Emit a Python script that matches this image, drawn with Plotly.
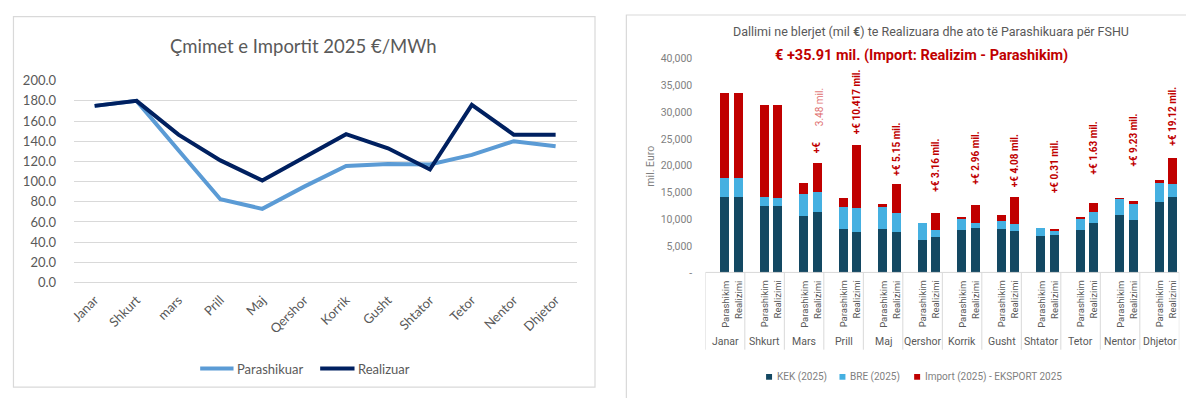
import plotly.graph_objects as go

W, H = 1186, 398

# ---------------- Left chart data ----------------
months_left = ["Janar", "Shkurt", "mars", "Prill", "Maj", "Qershor", "Korrik",
               "Gusht", "Shtator", "Tetor", "Nentor", "Dhjetor"]
parashikuar = [175.0, 180.0, 131.0, 82.5, 73.0, 95.0, 115.5, 117.5, 117.0, 126.5, 140.0, 135.0]
realizuar = [175.0, 180.0, 146.5, 121.0, 101.0, 124.0, 147.0, 133.0, 112.0, 176.0, 146.5, 146.5]
left_yticks = [0, 20, 40, 60, 80, 100, 120, 140, 160, 180, 200]

# ---------------- Right chart data ----------------
months_right = ["Janar", "Shkurt", "Mars", "Prill", "Maj", "Qershor", "Korrik",
                "Gusht", "Shtator", "Tetor", "Nentor", "Dhjetor"]
sub_labels = ["Parashikim", "Realizimi"]
kek_plan = [14160, 12450, 10540, 8270, 8160, 6200, 8040, 8220, 6910, 7920, 10720, 13220]
bre_plan = [3470, 1710, 4230, 3930, 4220, 3090, 2020, 1480, 1540, 2140, 3030, 3510]
imp_plan = [16000, 17150, 1960, 1790, 420, 0, 300, 1020, 0, 120, 120, 590]
kek_real = [14160, 12450, 11370, 7560, 7560, 6670, 8340, 7800, 7140, 9340, 9940, 14110]
bre_real = [3470, 1600, 3630, 4530, 3570, 1370, 1000, 1310, 600, 1970, 2920, 2440]
imp_real = [16000, 17260, 5420, 11720, 5360, 3210, 3290, 5000, 480, 1730, 590, 4880]
diff_labels = ["", "", "+€", "+€ 10.417 mil.", "+€ 5.15 mil.", "+€ 3.16 mil.",
               "+€ 2.96 mil.", "+€ 4.08 mil.", "+€ 0.31 mil.", "+€ 1.63 mil.",
               "+€ 9.23 mil.", "+€ 19.12 mil."]
mars_extra_label = "3.48 mil."
right_yticks = [0, 5000, 10000, 15000, 20000, 25000, 30000, 35000, 40000]
right_yticktext = ["-", "5,000", "10,000", "15,000", "20,000", "25,000", "30,000", "35,000", "40,000"]

# label placement (bottom of each rotated label, in data units)
label_base = [None, None, 21900, 25540, 17730, 14820, 16070, 15660, 14470, 18040, 19410, 23400]
mars_extra_base = 26970

# ---------------- styles ----------------
GRAY = "#595959"
LGRAY = "#7f7f7f"
RED = "#c00000"
C_KEK = "#134862"
C_BRE = "#45b0e1"
C_IMP = "#c00000"
C_PAR = "#5b9bd5"
C_REA = "#002060"

def px(x):
    return x / W

def py(y):
    return (H - y) / H

P_OFF, R_OFF, BW = 0.49, 0.835, 0.235

fig = go.Figure()

# Left chart lines
fig.add_trace(go.Scatter(x=months_left, y=parashikuar, mode="lines", name="Parashikuar",
                         line=dict(color=C_PAR, width=4), xaxis="x", yaxis="y", showlegend=False))
fig.add_trace(go.Scatter(x=months_left, y=realizuar, mode="lines", name="Realizuar",
                         line=dict(color=C_REA, width=4), xaxis="x", yaxis="y", showlegend=False))

# Right chart bars
n = len(months_right)
xs = [i + P_OFF for i in range(n)] + [i + R_OFF for i in range(n)]
for name, plan, real, col in [("KEK (2025)", kek_plan, kek_real, C_KEK),
                              ("BRE (2025)", bre_plan, bre_real, C_BRE),
                              ("Import (2025) - EKSPORT 2025", imp_plan, imp_real, C_IMP)]:
    fig.add_trace(go.Bar(x=xs, y=plan + real, width=BW, name=name,
                         marker=dict(color=col, line=dict(width=0)),
                         xaxis="x2", yaxis="y2", showlegend=False))

annotations = []
shapes = []

# Borders of both chart areas
shapes.append(dict(type="rect", xref="paper", yref="paper", x0=px(8.5), x1=px(592.5),
                   y0=py(395), y1=py(9), line=dict(color="#d9d9d9", width=1.2)))
shapes.append(dict(type="rect", xref="paper", yref="paper", x0=px(624), x1=px(1200),
                   y0=py(410), y1=py(7.3), line=dict(color="#d9d9d9", width=1.2)))

# Left title
annotations.append(dict(text="Çmimet e Importit 2025 €/MWh", xref="paper", yref="paper",
                        x=px(300), y=py(40), showarrow=False, xanchor="center", yanchor="middle",
                        font=dict(family="Lato", size=18.5, color=GRAY)))

# Left legend
for (x0, x1, tx, label, col) in [(196, 229.5, 231, "Parashikuar", C_PAR),
                                 (316.5, 351, 352, "Realizuar", C_REA)]:
    shapes.append(dict(type="line", xref="paper", yref="paper", x0=px(x0), x1=px(x1),
                       y0=py(375.7), y1=py(375.7), line=dict(color=col, width=4)))
    annotations.append(dict(text=label, xref="paper", yref="paper", x=px(tx), y=py(375.7),
                            showarrow=False, xanchor="left", yanchor="middle",
                            font=dict(family="Lato", size=13, color=GRAY)))

# Right titles
annotations.append(dict(text="Dallimi ne blerjet (mil <b>€</b>) te Realizuara dhe ato të Parashikuara për FSHU",
                        xref="paper", yref="paper", x=px(930), y=py(25), showarrow=False,
                        xanchor="center", yanchor="middle",
                        font=dict(family="Roboto", size=12.5, color=GRAY)))
annotations.append(dict(text="<b>€ +35.91 mil. (Import: Realizim - Parashikim)</b>",
                        xref="paper", yref="paper", x=px(920), y=py(50), showarrow=False,
                        xanchor="center", yanchor="middle",
                        font=dict(family="Roboto", size=14.5, color=RED)))

# y-axis title
annotations.append(dict(text="mil. Euro", xref="paper", yref="paper", x=px(648), y=py(165),
                        showarrow=False, textangle=-90, xanchor="center", yanchor="middle",
                        font=dict(family="Roboto", size=10.5, color=LGRAY)))

# Difference labels
for i, (t, b) in enumerate(zip(diff_labels, label_base)):
    if t and b is not None:
        annotations.append(dict(text="<b>" + t + "</b>", xref="x2", yref="y2", x=i + R_OFF, y=b,
                                showarrow=False, textangle=-90, xanchor="center", yanchor="bottom",
                                font=dict(family="Roboto", size=10, color=RED)))
annotations.append(dict(text=mars_extra_label, xref="x2", yref="y2", x=2 + R_OFF + 0.04, y=mars_extra_base,
                        showarrow=False, textangle=-90, xanchor="center", yanchor="bottom",
                        font=dict(family="Roboto", size=10, color="#e07070")))

# Category axis: sub-labels, group labels, lines
for i, m in enumerate(months_right):
    for off, sl in zip([P_OFF, R_OFF], sub_labels):
        annotations.append(dict(text=sl, xref="x2", yref="paper", x=i + off, y=py(282),
                                showarrow=False, textangle=-90, xanchor="center", yanchor="top",
                                font=dict(family="Roboto", size=9.5, color=GRAY)))
    annotations.append(dict(text=m, xref="x2", yref="paper", x=i + 0.5, y=py(347),
                            showarrow=False, xanchor="center", yanchor="middle",
                            font=dict(family="Roboto", size=10.5, color=GRAY)))
for i in range(n + 1):
    shapes.append(dict(type="line", xref="x2", yref="paper", x0=i, x1=i,
                       y0=py(275.5), y1=py(356), line=dict(color="#d9d9d9", width=1)))
shapes.append(dict(type="line", xref="x2", yref="paper", x0=0, x1=n,
                   y0=py(275.5), y1=py(275.5), line=dict(color="#d9d9d9", width=1)))

# Right legend
for (sx, tx, label, col) in [(764.3, 773, "KEK (2025)", C_KEK),
                             (838, 847, "BRE (2025)", C_BRE),
                             (913, 922, "Import (2025) - EKSPORT 2025", C_IMP)]:
    shapes.append(dict(type="rect", xref="paper", yref="paper", x0=px(sx), x1=px(sx + 6),
                       y0=py(387.3), y1=py(381.3), fillcolor=col, line=dict(width=0)))
    annotations.append(dict(text=label, xref="paper", yref="paper", x=px(tx), y=py(384.3),
                            showarrow=False, xanchor="left", yanchor="middle",
                            font=dict(family="Roboto", size=10, color=LGRAY)))

fig.update_layout(
    width=W, height=H,
    margin=dict(l=0, r=0, t=0, b=0),
    paper_bgcolor="white", plot_bgcolor="rgba(0,0,0,0)",
    barmode="stack",
    showlegend=False,
    xaxis=dict(domain=[px(69), px(574)], type="category", range=[-0.5, 11.5],
               tickangle=-45, showgrid=False, showline=False, zeroline=False,
               ticks="outside", ticklen=4, tickcolor="rgba(0,0,0,0)",
               tickfont=dict(family="Lato", size=13, color=GRAY), anchor="y"),
    yaxis=dict(domain=[py(286), py(75.7)], range=[0, 200], tickvals=left_yticks,
               tickformat=".1f", showgrid=True, gridcolor="#d9d9d9", gridwidth=1,
               zeroline=True, zerolinecolor="#d9d9d9", zerolinewidth=1, showline=False,
               ticks="outside", ticklen=14, tickcolor="rgba(0,0,0,0)",
               tickfont=dict(family="Lato", size=13, color=GRAY),
               anchor="x"),
    xaxis2=dict(domain=[px(703.3), px(1179.3)], range=[0, n], showgrid=False, zeroline=False,
                showline=False, showticklabels=False, ticks="", anchor="y2"),
    yaxis2=dict(domain=[py(276), py(52.5)], range=[0, 40000], tickvals=right_yticks,
                ticktext=right_yticktext, showgrid=False, zeroline=False, showline=False,
                ticks="outside", ticklen=10, tickcolor="rgba(0,0,0,0)",
                tickfont=dict(family="Roboto", size=10.5, color=LGRAY),
                anchor="x2"),
    annotations=annotations,
    shapes=shapes,
)

fig.write_html("out.html")
